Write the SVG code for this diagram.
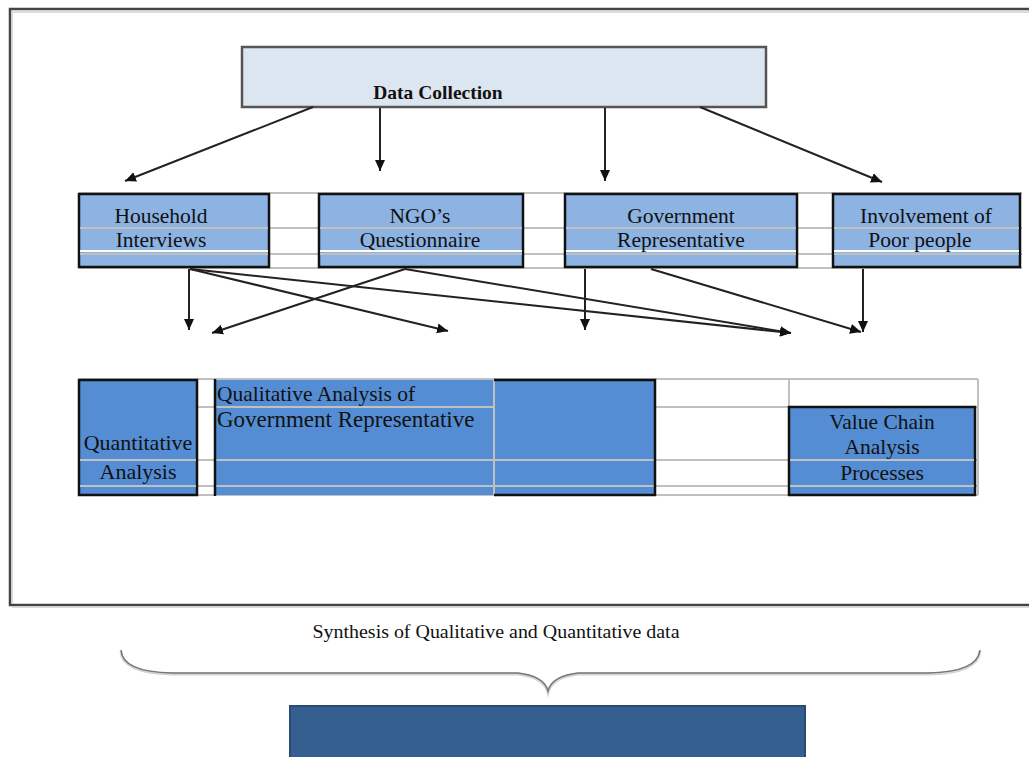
<svg xmlns="http://www.w3.org/2000/svg" width="1029" height="757" viewBox="0 0 1029 757">
<style>
text{font-family:"Liberation Serif","Times New Roman",serif;fill:#111;}
.t2{font-size:21.5px;text-anchor:middle;}
.t4{font-size:22px;}
.grid{stroke:#c0c0c0;stroke-width:2;fill:none;}
.wl{stroke:#ffffff;stroke-width:2;}
.box{stroke:#111;stroke-width:2.5;}
.l1{fill:#8db3e2;}
.l2{fill:#548dd4;}
.conn line{stroke:#222;stroke-width:2;marker-end:url(#ah);}
</style>
<defs>
<marker id="ah" markerWidth="12" markerHeight="12" refX="11" refY="5.5" orient="auto" markerUnits="userSpaceOnUse">
<path d="M0,0.5 L11,5.5 L0,10.5 Z" fill="#111"/>
</marker>
</defs>
<rect width="1029" height="757" fill="#fff"/>
<g id="frame">
<rect x="10" y="9" width="1100" height="596" fill="none" stroke="#444" stroke-width="2.5"/>
<path d="M12,12 H1029 M12,12 V603 M12,607 H1029" stroke="#cfcfcf" stroke-width="1.5" fill="none"/>
</g>
<g id="data-collection">
<rect x="242" y="47" width="524" height="60" fill="#dce6f0" stroke="#555" stroke-width="2.5"/>
<text x="438" y="99" style="font-size:19.5px;font-weight:bold;text-anchor:middle">Data Collection</text>
</g>
<g id="row2-grid" class="grid">
<line x1="79" y1="193" x2="1022" y2="193"/>
<line x1="79" y1="228" x2="1022" y2="228"/>
<line x1="79" y1="254" x2="1022" y2="254"/>
<line x1="79" y1="268" x2="1022" y2="268"/>
</g>
<g id="household">
<rect class="l1 box" x="79" y="194" width="190" height="73"/>
<line class="grid" x1="80" y1="228" x2="268" y2="228"/><line class="wl" x1="80" y1="251" x2="268" y2="251"/><line class="grid" x1="80" y1="254" x2="268" y2="254"/>
<text class="t2" x="161" y="223">Household</text>
<text class="t2" x="161" y="247">Interviews</text>
</g>
<g id="ngo">
<rect class="l1 box" x="319" y="194" width="204" height="73"/>
<line class="grid" x1="320" y1="228" x2="522" y2="228"/><line class="wl" x1="320" y1="251" x2="522" y2="251"/><line class="grid" x1="320" y1="254" x2="522" y2="254"/>
<text class="t2" x="420" y="223">NGO’s</text>
<text class="t2" x="420" y="247">Questionnaire</text>
</g>
<g id="government">
<rect class="l1 box" x="565" y="194" width="232" height="73"/>
<line class="grid" x1="566" y1="228" x2="796" y2="228"/><line class="wl" x1="566" y1="251" x2="796" y2="251"/><line class="grid" x1="566" y1="254" x2="796" y2="254"/>
<text class="t2" x="681" y="223">Government</text>
<text class="t2" x="681" y="247">Representative</text>
</g>
<g id="involvement">
<rect class="l1 box" x="833" y="194" width="187" height="73"/>
<line class="grid" x1="834" y1="228" x2="1019" y2="228"/><line class="wl" x1="834" y1="251" x2="1019" y2="251"/><line class="grid" x1="834" y1="254" x2="1019" y2="254"/>
<text class="t2" x="926" y="223">Involvement of</text>
<text class="t2" x="920" y="247">Poor people</text>
</g>
<g id="connectors" class="conn">
<line x1="313" y1="107" x2="125" y2="181"/>
<line x1="380" y1="108" x2="380" y2="171"/>
<line x1="605" y1="108" x2="605" y2="181"/>
<line x1="700" y1="107" x2="882" y2="182"/>
<line x1="189" y1="269" x2="189" y2="330"/>
<line x1="190" y1="269" x2="448" y2="331"/>
<line x1="190" y1="269" x2="791" y2="333"/>
<line x1="405" y1="269" x2="212" y2="333"/>
<line x1="405" y1="269" x2="791" y2="333"/>
<line x1="585" y1="269" x2="585" y2="330"/>
<line x1="651" y1="269" x2="861" y2="332"/>
<line x1="863" y1="269" x2="863" y2="332"/>
</g>
<g id="row4-grid" class="grid">
<line x1="79" y1="379" x2="978" y2="379"/>
<line x1="79" y1="407" x2="978" y2="407"/>
<line x1="79" y1="460" x2="978" y2="460"/>
<line x1="79" y1="486" x2="978" y2="486"/>
<line x1="79" y1="495" x2="978" y2="495"/>
<line x1="789" y1="379" x2="789" y2="495"/>
<line x1="978" y1="379" x2="978" y2="495"/>
</g>
<g id="quantitative">
<rect class="l2 box" x="79" y="380" width="118" height="115"/>
<line class="grid" x1="80" y1="460" x2="196" y2="460"/><line class="grid" x1="80" y1="486" x2="196" y2="486"/>
<text class="t4" x="138" y="450" text-anchor="middle">Quantitative</text>
<text class="t4" x="138" y="479" text-anchor="middle">Analysis</text>
</g>
<g id="qualitative">
<rect class="l2" x="214" y="380" width="441" height="115"/>
<line class="grid" x1="215" y1="407" x2="494" y2="407"/><line class="grid" x1="215" y1="460" x2="654" y2="460"/><line class="grid" x1="215" y1="486" x2="654" y2="486"/>
<line class="grid" x1="494" y1="380" x2="494" y2="495"/>
<path d="M494,380 H655 V495 H494" fill="none" stroke="#111" stroke-width="2.5"/>
<line x1="215" y1="379" x2="215" y2="496" stroke="#111" stroke-width="2.5"/>
<text x="217" y="401" style="font-size:21.5px">Qualitative Analysis of</text>
<text x="217" y="427" style="font-size:23px">Government Representative</text>
</g>
<g id="value-chain">
<rect class="l2 box" x="789" y="407" width="186" height="88"/>
<line class="grid" x1="790" y1="460" x2="974" y2="460"/><line class="grid" x1="790" y1="486" x2="974" y2="486"/>
<text class="t2" x="882" y="429">Value Chain</text>
<text class="t2" x="882" y="454">Analysis</text>
<text class="t2" x="882" y="480">Processes</text>
</g>
<g id="synthesis">
<text x="496" y="638" text-anchor="middle" style="font-size:18px" textLength="367" lengthAdjust="spacingAndGlyphs">Synthesis of Qualitative and Quantitative data</text>
<path d="M121,650 Q122,672 172,673 L518,673 Q544,676 548,691 Q552,676 578,673 L928,673 Q978,672 980,650" fill="none" stroke="#d4d4d4" stroke-width="3" transform="translate(0,1)"/>
<path d="M121,650 Q122,672 172,673 L518,673 Q544,676 548,691 Q552,676 578,673 L928,673 Q978,672 980,650" fill="none" stroke="#777" stroke-width="1.5"/>
</g>
<g id="result">
<rect x="290" y="706" width="515" height="60" fill="#365f91" stroke="#2b4b73" stroke-width="2"/>
</g>
</svg>
